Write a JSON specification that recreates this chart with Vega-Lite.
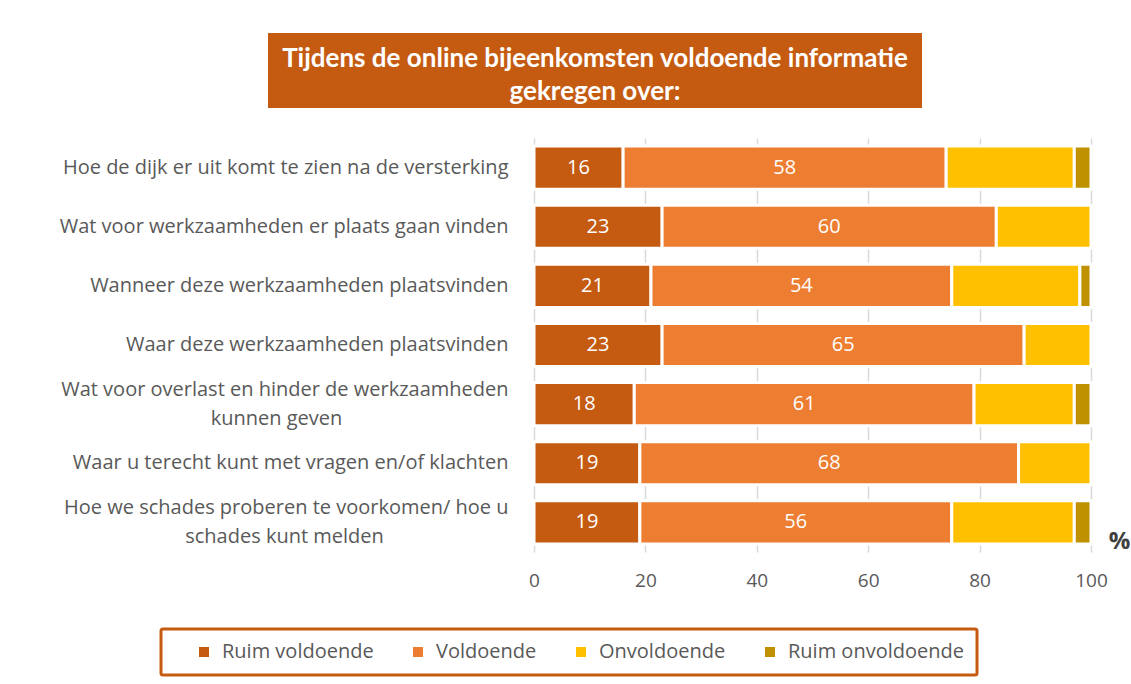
{
  "$schema": "https://vega.github.io/schema/vega-lite/v6.json",
  "padding": {"left": 58, "top": 33, "right": 0, "bottom": 0},
  "background": "white",
  "config": {
    "font": "Open Sans",
    "view": {"stroke": null},
    "concat": {"spacing": 29},
    "legend": {"strokeColor": "#C55A11", "strokeWidth": 3, "fillColor": "white"}
  },
  "vconcat": [
    {
      "spacing": 0,
      "hconcat": [
        {
          "width": 210,
          "height": 75,
          "data": {"values": [{"spacer": ""}]},
          "mark": {"type": "text", "text": ""},
          "encoding": {}
        },
        {
          "width": 654,
          "height": 75,
          "view": {"fill": "#C55A11", "stroke": null},
          "data": {"values": [{"title": "header"}]},
          "mark": {
            "type": "text",
            "text": ["Tijdens de online bijeenkomsten voldoende informatie", "gekregen over:"],
            "font": "Lato",
            "fontWeight": "bold",
            "fontSize": 26,
            "color": "white",
            "lineHeight": 33,
            "align": "center",
            "baseline": "middle",
            "dy": -11.5
          },
          "encoding": {}
        }
      ]
    },
    {
      "spacing": 0,
      "hconcat": [
        {
          "width": 1,
          "height": 10,
          "data": {"values": [{"spacer": ""}]},
          "mark": {"type": "text", "text": ""},
          "encoding": {}
        },
        {
          "width": 557,
          "height": 414,
          "data": {
            "values": [
              {"item": "Hoe de dijk er uit komt te zien na de versterking", "cat": "Ruim voldoende", "pct": 16},
              {"item": "Hoe de dijk er uit komt te zien na de versterking", "cat": "Voldoende", "pct": 58},
              {"item": "Hoe de dijk er uit komt te zien na de versterking", "cat": "Onvoldoende", "pct": 23},
              {"item": "Hoe de dijk er uit komt te zien na de versterking", "cat": "Ruim onvoldoende", "pct": 3},
              {"item": "Wat voor werkzaamheden er plaats gaan vinden", "cat": "Ruim voldoende", "pct": 23},
              {"item": "Wat voor werkzaamheden er plaats gaan vinden", "cat": "Voldoende", "pct": 60},
              {"item": "Wat voor werkzaamheden er plaats gaan vinden", "cat": "Onvoldoende", "pct": 17},
              {"item": "Wanneer deze werkzaamheden plaatsvinden", "cat": "Ruim voldoende", "pct": 21},
              {"item": "Wanneer deze werkzaamheden plaatsvinden", "cat": "Voldoende", "pct": 54},
              {"item": "Wanneer deze werkzaamheden plaatsvinden", "cat": "Onvoldoende", "pct": 23},
              {"item": "Wanneer deze werkzaamheden plaatsvinden", "cat": "Ruim onvoldoende", "pct": 2},
              {"item": "Waar deze werkzaamheden plaatsvinden", "cat": "Ruim voldoende", "pct": 23},
              {"item": "Waar deze werkzaamheden plaatsvinden", "cat": "Voldoende", "pct": 65},
              {"item": "Waar deze werkzaamheden plaatsvinden", "cat": "Onvoldoende", "pct": 12},
              {"item": "Wat voor overlast en hinder de werkzaamheden kunnen geven", "cat": "Ruim voldoende", "pct": 18},
              {"item": "Wat voor overlast en hinder de werkzaamheden kunnen geven", "cat": "Voldoende", "pct": 61},
              {"item": "Wat voor overlast en hinder de werkzaamheden kunnen geven", "cat": "Onvoldoende", "pct": 18},
              {"item": "Wat voor overlast en hinder de werkzaamheden kunnen geven", "cat": "Ruim onvoldoende", "pct": 3},
              {"item": "Waar u terecht kunt met vragen en/of klachten", "cat": "Ruim voldoende", "pct": 19},
              {"item": "Waar u terecht kunt met vragen en/of klachten", "cat": "Voldoende", "pct": 68},
              {"item": "Waar u terecht kunt met vragen en/of klachten", "cat": "Onvoldoende", "pct": 13},
              {"item": "Hoe we schades proberen te voorkomen/ hoe u schades kunt melden", "cat": "Ruim voldoende", "pct": 19},
              {"item": "Hoe we schades proberen te voorkomen/ hoe u schades kunt melden", "cat": "Voldoende", "pct": 56},
              {"item": "Hoe we schades proberen te voorkomen/ hoe u schades kunt melden", "cat": "Onvoldoende", "pct": 22},
              {"item": "Hoe we schades proberen te voorkomen/ hoe u schades kunt melden", "cat": "Ruim onvoldoende", "pct": 3}
            ]
          },
          "transform": [
            {"calculate": "indexof(['Ruim voldoende','Voldoende','Onvoldoende','Ruim onvoldoende'], datum.cat)", "as": "o"},
            {"stack": "pct", "groupby": ["item"], "sort": [{"field": "o"}], "as": ["v0", "v1"]},
            {"calculate": "(datum.v0 + datum.v1) / 2", "as": "mid"}
          ],
          "encoding": {
            "y": {
              "field": "item",
              "type": "nominal",
              "sort": null,
              "scale": {"paddingInner": 0.27, "paddingOuter": 0.135},
              "axis": {
                "title": null,
                "domain": false,
                "ticks": false,
                "labelFontSize": 20,
                "labelColor": "#595959",
                "labelPadding": 26,
                "labelLimit": 0,
                "labelLineHeight": 29,
                "labelOffset": {"condition": {"test": "length(datum.label) > 50", "value": -14.5}, "value": 0},
                "labelExpr": "length(datum.label) > 50 ? [substring(datum.label, 0, lastindexof(substring(datum.label, 0, 46), ' ')), pad(substring(datum.label, lastindexof(substring(datum.label, 0, 46), ' ') + 1), lastindexof(substring(datum.label, 0, 46), ' '), '\u00a0') + '\u200b'] : datum.label"
              }
            }
          },
          "layer": [
            {
              "mark": {"type": "bar", "stroke": "white", "strokeWidth": 3},
              "encoding": {
                "x": {
                  "field": "v0",
                  "type": "quantitative",
                  "scale": {"domain": [0, 100], "nice": false},
                  "axis": {
                    "values": [0, 20, 40, 60, 80, 100],
                    "grid": true,
                    "gridColor": "#d9d9d9",
                    "gridWidth": 1.5,
                    "domain": false,
                    "ticks": false,
                    "labelFlush": false,
                    "labelFontSize": 19,
                    "labelColor": "#595959",
                    "labelPadding": 19,
                    "title": "%",
                    "titleFontSize": 24,
                    "titleFontWeight": "bold",
                    "titleColor": "#404040",
                    "titleX": 585,
                    "titleY": -11,
                    "titleAlign": "center",
                    "titleBaseline": "middle"
                  }
                },
                "x2": {"field": "v1"},
                "color": {
                  "field": "cat",
                  "type": "nominal",
                  "scale": {
                    "domain": ["Ruim voldoende", "Voldoende", "Onvoldoende", "Ruim onvoldoende"],
                    "range": ["#C55A11", "#ED7D31", "#FFC000", "#BF9000"]
                  },
                  "legend": {
                    "orient": "none",
                    "legendX": 103,
                    "legendY": 596,
                    "direction": "horizontal",
                    "title": null,
                    "strokeColor": "#C55A11",
                    "fillColor": "white",
                    "cornerRadius": 2,
                    "padding": 13,
                    "symbolType": "square",
                    "symbolSize": 100,
                    "symbolStrokeWidth": 0,
                    "symbolOffset": 20,
                    "labelFontSize": 20,
                    "labelColor": "#595959",
                    "labelOffset": 8,
                    "labelLimit": 0,
                    "columnPadding": 14
                  }
                }
              }
            },
            {
              "transform": [{"filter": "datum.o < 2"}],
              "mark": {"type": "text", "color": "white", "fontSize": 20, "baseline": "middle", "align": "center"},
              "encoding": {
                "x": {"field": "mid", "type": "quantitative"},
                "text": {"field": "pct", "type": "quantitative"}
              }
            }
          ]
        }
      ]
    }
  ]
}
